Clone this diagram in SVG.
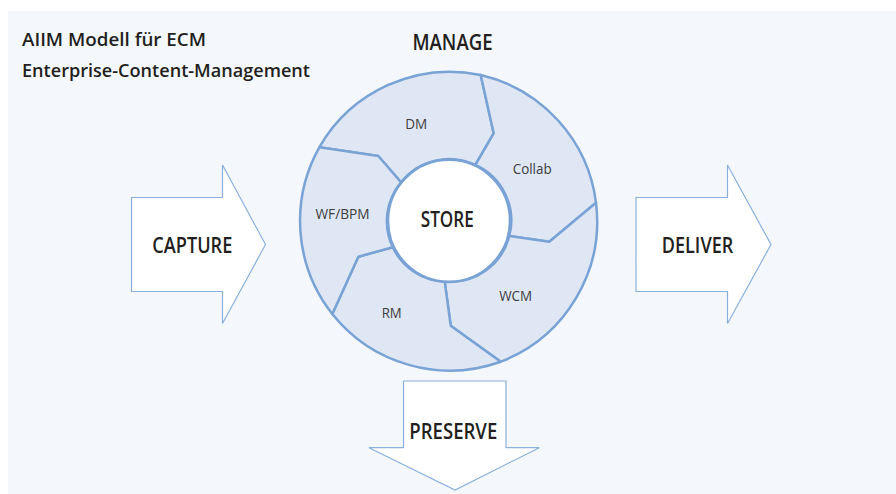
<svg xmlns="http://www.w3.org/2000/svg" width="896" height="494" viewBox="0 0 896 494">
  <style>
    .title { font-family: "Open Sans", "Liberation Sans", sans-serif; font-weight: 600; font-size: 18.5px; fill: #231f20; }
    .big { font-family: "Open Sans", "Liberation Sans", sans-serif; font-weight: 600; font-size: 21px; fill: #231f20; text-anchor: middle; }
    .lbl { font-family: "Open Sans", "Liberation Sans", sans-serif; font-weight: 400; font-size: 15px; fill: #3d3d3d; text-anchor: middle; }
    .seg { fill: #dfe7f4; stroke: #79a2d5; stroke-width: 2.5; stroke-linejoin: round; }
    .core { fill: #ffffff; stroke: #79a2d5; stroke-width: 2.5; }
    .arrow { fill: #ffffff; stroke: #8bb0de; stroke-width: 1.2; stroke-linejoin: miter; }
  </style>

  <!-- background panel -->
  <rect x="0" y="0" width="896" height="494" fill="#ffffff"/>
  <rect x="8" y="11" width="888" height="483" fill="#f4f8fc"/>

  <!-- heading -->
  <g id="heading">
    <text class="title" x="22" y="46" textLength="184" lengthAdjust="spacingAndGlyphs">AIIM Modell für ECM</text>
    <text class="title" x="22" y="77" textLength="288" lengthAdjust="spacingAndGlyphs">Enterprise-Content-Management</text>
  </g>

  <g id="manage">
    <text class="big" x="452.5" y="50" textLength="80" lengthAdjust="spacingAndGlyphs">MANAGE</text>
  </g>

  <!-- ring segments around the store -->
  <g id="dm">
    <path class="seg" d="M401,182.3 L378.3,156 L319.3,147.3 A150.5,150.5 0 0 1 480.7,75 L493.7,133.3 L475.3,165 A61,61 0 0 0 401,182.3 Z"/>
    <text class="lbl" x="416.2" y="129" textLength="22" lengthAdjust="spacingAndGlyphs">DM</text>
  </g>
  <g id="collab">
    <path class="seg" d="M475.3,165 L493.7,133.3 L480.7,75 A150.5,150.5 0 0 1 596,202.7 L549.3,241.7 L509.3,236 A61,61 0 0 0 475.3,165 Z"/>
    <text class="lbl" x="532.2" y="174" textLength="39" lengthAdjust="spacingAndGlyphs">Collab</text>
  </g>
  <g id="wcm">
    <path class="seg" d="M509.3,236 L549.3,241.7 L596,202.7 A150.5,150.5 0 0 1 500.7,361.7 L450.7,325.7 L444.7,281.7 A61,61 0 0 0 509.3,236 Z"/>
    <text class="lbl" x="515.7" y="301" textLength="33" lengthAdjust="spacingAndGlyphs">WCM</text>
  </g>
  <g id="rm">
    <path class="seg" d="M444.7,281.7 L450.7,325.7 L500.7,361.7 A150.5,150.5 0 0 1 332.3,314 L358.3,256.7 L392.7,247.3 A61,61 0 0 0 444.7,281.7 Z"/>
    <text class="lbl" x="391.7" y="317.5" textLength="20" lengthAdjust="spacingAndGlyphs">RM</text>
  </g>
  <g id="wfbpm">
    <path class="seg" d="M392.7,247.3 L358.3,256.7 L332.3,314 A150.5,150.5 0 0 1 319.3,147.3 L378.3,156 L401,182.3 A61,61 0 0 0 392.7,247.3 Z"/>
    <text class="lbl" x="342.5" y="219.3" textLength="54" lengthAdjust="spacingAndGlyphs">WF/BPM</text>
  </g>

  <g id="store">
    <circle class="core" cx="449" cy="220.7" r="61"/>
    <text class="big" x="447.3" y="226.7" textLength="53" lengthAdjust="spacingAndGlyphs">STORE</text>
  </g>

  <!-- block arrows -->
  <g id="capture">
    <polygon class="arrow" points="131.5,197.5 222.5,197.5 222.5,165 265.5,244.5 222.5,323.5 222.5,291.5 131.5,291.5"/>
    <text class="big" x="192.3" y="253.3" textLength="80" lengthAdjust="spacingAndGlyphs">CAPTURE</text>
  </g>
  <g id="deliver">
    <polygon class="arrow" points="636,197.5 727.5,197.5 727.5,165 771,244.5 727.5,323.5 727.5,291.5 636,291.5"/>
    <text class="big" x="697.5" y="253.3" textLength="71.5" lengthAdjust="spacingAndGlyphs">DELIVER</text>
  </g>
  <g id="preserve">
    <polygon class="arrow" points="403.5,381 506,381 506,447.7 539.3,447.7 455,490 369,447.7 403.5,447.7"/>
    <text class="big" x="453.3" y="439.3" textLength="88" lengthAdjust="spacingAndGlyphs">PRESERVE</text>
  </g>
</svg>
